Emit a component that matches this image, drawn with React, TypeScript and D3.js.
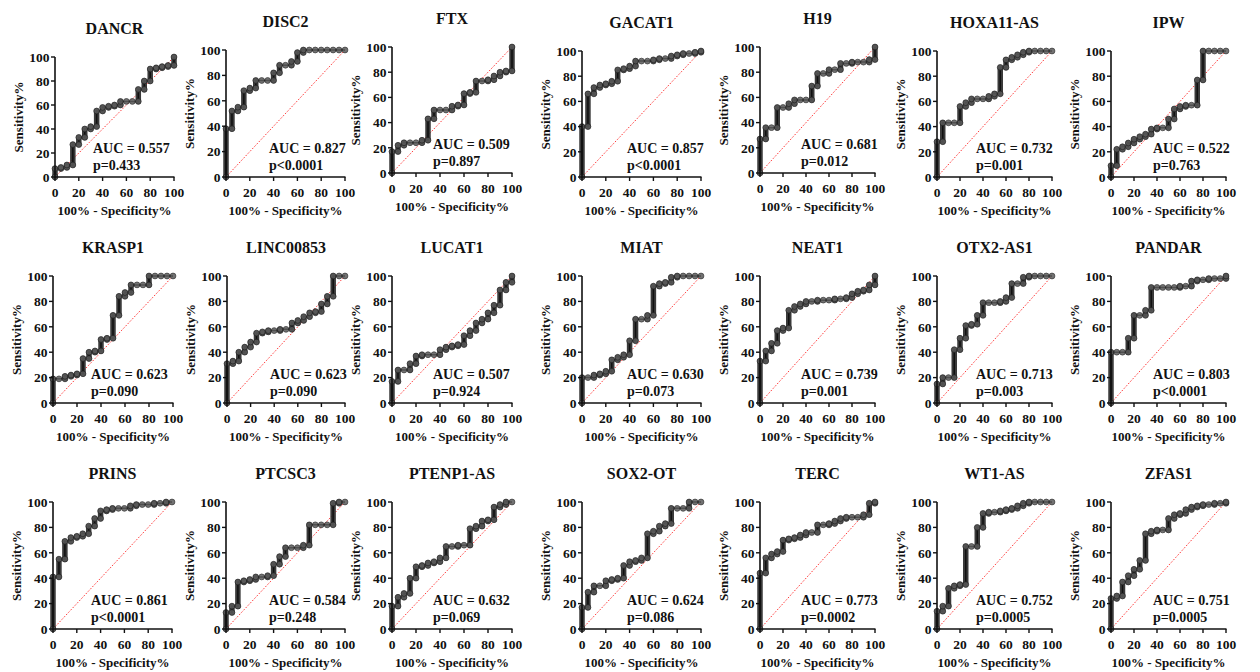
import React from "react";
import * as d3 from "d3";

// ---------------- data ----------------
const fprSteps = [0, 5, 10, 15, 20, 25, 30, 35, 40, 45, 50, 55, 60, 65, 70, 75, 80, 85, 90, 95, 100];
const tickValues = [0, 20, 40, 60, 80, 100];

const geneNames = [
  "DANCR", "DISC2", "FTX", "GACAT1", "H19", "HOXA11-AS", "IPW",
  "KRASP1", "LINC00853", "LUCAT1", "MIAT", "NEAT1", "OTX2-AS1", "PANDAR",
  "PRINS", "PTCSC3", "PTENP1-AS", "SOX2-OT", "TERC", "WT1-AS", "ZFAS1",
];
const aucValues = [
  "0.557", "0.827", "0.509", "0.857", "0.681", "0.732", "0.522",
  "0.623", "0.623", "0.507", "0.630", "0.739", "0.713", "0.803",
  "0.861", "0.584", "0.632", "0.624", "0.773", "0.752", "0.751",
];
const pValues = [
  "p=0.433", "p<0.0001", "p=0.897", "p<0.0001", "p=0.012", "p=0.001", "p=0.763",
  "p=0.090", "p=0.090", "p=0.924", "p=0.073", "p=0.001", "p=0.003", "p<0.0001",
  "p<0.0001", "p=0.248", "p=0.069", "p=0.086", "p=0.0002", "p=0.0005", "p=0.0005",
];

// sensitivity (%) reached at each 100%-specificity step
const dancr = [7, 8, 10, 27, 33, 40, 42, 55, 58, 59, 60, 63, 63, 63, 73, 80, 90, 91, 92, 93, 100];
const disc2 = [38, 52, 55, 68, 70, 76, 76, 76, 82, 88, 88, 91, 98, 100, 100, 100, 100, 100, 100, 100, 100];
const ftx = [17, 22, 24, 24, 24, 26, 43, 50, 50, 50, 53, 54, 63, 64, 73, 73, 74, 77, 80, 81, 100];
const gacat1 = [40, 66, 71, 73, 74, 76, 85, 86, 88, 92, 92, 92, 93, 94, 94, 96, 97, 98, 98, 99, 100];
const h19 = [27, 36, 36, 52, 52, 55, 58, 58, 58, 69, 79, 79, 82, 82, 87, 87, 88, 88, 88, 90, 100];
const hoxa11as = [28, 43, 43, 43, 56, 59, 62, 62, 62, 64, 66, 87, 93, 95, 97, 99, 100, 100, 100, 100, 100];
const ipw = [9, 22, 24, 27, 30, 32, 34, 38, 39, 39, 46, 54, 56, 57, 57, 77, 100, 100, 100, 100, 100];
const krasp1 = [19, 19, 21, 22, 23, 35, 40, 41, 50, 51, 69, 84, 87, 93, 93, 93, 100, 100, 100, 100, 100];
const linc00853 = [31, 33, 40, 44, 48, 55, 56, 57, 57, 58, 58, 63, 65, 68, 71, 72, 78, 84, 100, 100, 100];
const lucat1 = [17, 26, 26, 31, 37, 38, 38, 38, 42, 44, 45, 46, 53, 57, 63, 66, 71, 77, 89, 95, 100];
const miat = [20, 20, 22, 23, 25, 34, 36, 38, 49, 66, 66, 69, 92, 94, 95, 99, 100, 100, 100, 100, 100];
const neat1 = [33, 41, 47, 57, 59, 73, 76, 78, 80, 80, 81, 81, 81, 82, 82, 83, 86, 88, 89, 93, 100];
const otx2as1 = [15, 20, 20, 42, 51, 61, 62, 69, 79, 79, 79, 80, 83, 94, 94, 99, 100, 100, 100, 100, 100];
const pandar = [40, 40, 40, 51, 69, 69, 73, 91, 91, 91, 91, 91, 92, 92, 96, 97, 97, 98, 98, 98, 100];
const prins = [41, 55, 69, 72, 73, 75, 81, 87, 93, 94, 95, 95, 95, 97, 98, 98, 98, 99, 99, 100, 100];
const ptcsc3 = [13, 18, 37, 38, 39, 41, 41, 42, 51, 57, 64, 64, 64, 66, 82, 82, 82, 82, 99, 100, 100];
const ptenp1as = [18, 25, 28, 40, 49, 50, 52, 53, 56, 65, 65, 66, 66, 79, 81, 85, 86, 96, 98, 100, 100];
const sox2ot = [17, 29, 34, 34, 38, 39, 40, 50, 53, 54, 56, 75, 77, 81, 83, 95, 95, 95, 100, 100, 100];
const terc = [44, 56, 59, 61, 70, 71, 72, 74, 76, 76, 82, 82, 83, 85, 87, 88, 88, 88, 90, 99, 100];
const wt1as = [14, 18, 32, 34, 35, 65, 65, 80, 91, 92, 92, 93, 94, 95, 97, 99, 100, 100, 100, 100, 100];
const zfas1 = [24, 26, 37, 42, 47, 54, 75, 77, 78, 78, 87, 90, 91, 94, 96, 97, 98, 98, 99, 99, 100];

const sensitivities = [
  dancr, disc2, ftx, gacat1, h19, hoxa11as, ipw,
  krasp1, linc00853, lucat1, miat, neat1, otx2as1, pandar,
  prins, ptcsc3, ptenp1as, sox2ot, terc, wt1as, zfas1,
];

// ---------------- layout ----------------
const rowLeft = [
  [55, 226, 392, 582, 760, 937, 1111],
  [53, 227, 392, 582, 760, 937, 1111],
  [53, 226, 392, 582, 760, 937, 1111],
];
const rowRight = [
  [174, 345, 512, 701, 875, 1052, 1226],
  [173, 345, 512, 701, 875, 1052, 1226],
  [172, 345, 512, 701, 875, 1052, 1226],
];
const rowTop = [
  [57, 50, 47, 51, 47, 51, 51],
  [276, 276, 276, 276, 276, 276, 276],
  [502, 502, 502, 502, 502, 502, 502],
];
const rowBottom = [
  [177, 177, 173, 177, 173, 177, 177],
  [403, 403, 403, 403, 403, 403, 403],
  [629, 629, 629, 629, 629, 629, 629],
];
const aucOffset = [38, 43, 41, 45, 41, 39, 42];

const FONT = "'Liberation Serif', 'Times New Roman', Times, serif";

function Panel({ idx }: { idx: number }) {
  const r = Math.floor(idx / 7);
  const c = idx % 7;
  const x0 = rowLeft[r][c];
  const x1 = rowRight[r][c];
  const yt = rowTop[r][c];
  const yb = rowBottom[r][c];
  const x = d3.scaleLinear().domain([0, 100]).range([x0, x1]);
  const y = d3.scaleLinear().domain([0, 100]).range([yb, yt]);
  const sens = sensitivities[idx];

  const pts: [number, number][] = [[0, 0]];
  sens.forEach((s, i) => {
    pts.push([fprSteps[i], s]);
    if (i < sens.length - 1) pts.push([fprSteps[i + 1], s]);
  });
  const line = d3.line<[number, number]>().x((d) => x(d[0])).y((d) => y(d[1]));

  const verticals: { fx: number; a: number; b: number }[] = [];
  const markers: [number, number][] = [];
  sens.forEach((s, i) => {
    const prev = i === 0 ? 0 : sens[i - 1];
    if (s > prev) verticals.push({ fx: fprSteps[i], a: prev, b: s });
    markers.push([fprSteps[i], prev]);
    if (s !== prev) markers.push([fprSteps[i], s]);
  });

  const cx = (x0 + x1) / 2;
  const cy = (yt + yb) / 2;

  return (
    <g>
      {/* title */}
      <text x={cx} y={yt - 23} textAnchor="middle" fontSize={16} fontWeight="bold" fontFamily={FONT} fill="#111">
        {geneNames[idx]}
      </text>
      {/* diagonal */}
      <line x1={x(0)} y1={y(0)} x2={x(100)} y2={y(100)} stroke="#ff3b3b" strokeWidth={1} strokeDasharray="1.6,1.6" />
      {/* vertical runs */}
      {verticals.map((v, i) => (
        <line key={"v" + i} x1={x(v.fx)} x2={x(v.fx)} y1={y(v.a)} y2={y(v.b)}
          stroke="#2a2a2a" strokeWidth={5.5} strokeLinecap="round" opacity={0.92} />
      ))}
      {/* step line */}
      <path d={line(pts) || ""} fill="none" stroke="#111" strokeWidth={1.5} />
      {/* markers */}
      {markers.map((m, i) => (
        <circle key={"m" + i} cx={x(m[0])} cy={y(m[1])} r={2.9}
          fill="#5a5a5a" stroke="#222" strokeWidth={0.8} opacity={0.85} />
      ))}
      {/* axes */}
      <line x1={x0} x2={x1 + 0.5} y1={yb} y2={yb} stroke="#111" strokeWidth={1.6} />
      <line x1={x0} x2={x0} y1={yt} y2={yb + 0.8} stroke="#111" strokeWidth={1.6} />
      {tickValues.map((t) => (
        <g key={"xt" + t}>
          <line x1={x(t)} x2={x(t)} y1={yb} y2={yb + 4} stroke="#111" strokeWidth={1.4} />
          <text x={x(t)} y={yb + 19.5} textAnchor="middle" fontSize={13.5} fontWeight="bold" fontFamily={FONT} fill="#111">
            {t}
          </text>
        </g>
      ))}
      {tickValues.map((t) => (
        <g key={"yt" + t}>
          <line x1={x0 - 4} x2={x0} y1={y(t)} y2={y(t)} stroke="#111" strokeWidth={1.4} />
          <text x={x0 - 5.5} y={y(t) + 4.7} textAnchor="end" fontSize={13.5} fontWeight="bold" fontFamily={FONT} fill="#111">
            {t}
          </text>
        </g>
      ))}
      {/* axis labels */}
      <text x={cx} y={yb + 38} textAnchor="middle" fontSize={13} fontWeight="bold" fontFamily={FONT} fill="#111">
        100% - Specificity%
      </text>
      <text transform={`translate(${x0 - 32.5},${cy}) rotate(-90)`} textAnchor="middle" fontSize={13}
        fontWeight="bold" fontFamily={FONT} fill="#111">
        Sensitivity%
      </text>
      {/* AUC annotation */}
      <text x={x0 + aucOffset[c]} y={yb - 24} fontSize={14} fontWeight="bold" fontFamily={FONT} fill="#111">
        {"AUC = " + aucValues[idx]}
      </text>
      <text x={x0 + aucOffset[c]} y={yb - 7} fontSize={14} fontWeight="bold" fontFamily={FONT} fill="#111">
        {pValues[idx]}
      </text>
    </g>
  );
}

export default function App() {
  return (
    <svg width={1260} height={672} style={{ position: "absolute", left: 0, top: 0, background: "#fff" }}>
      <rect x={0} y={0} width={1260} height={672} fill="#fff" />
      {geneNames.map((_, i) => (
        <Panel key={i} idx={i} />
      ))}
    </svg>
  );
}
